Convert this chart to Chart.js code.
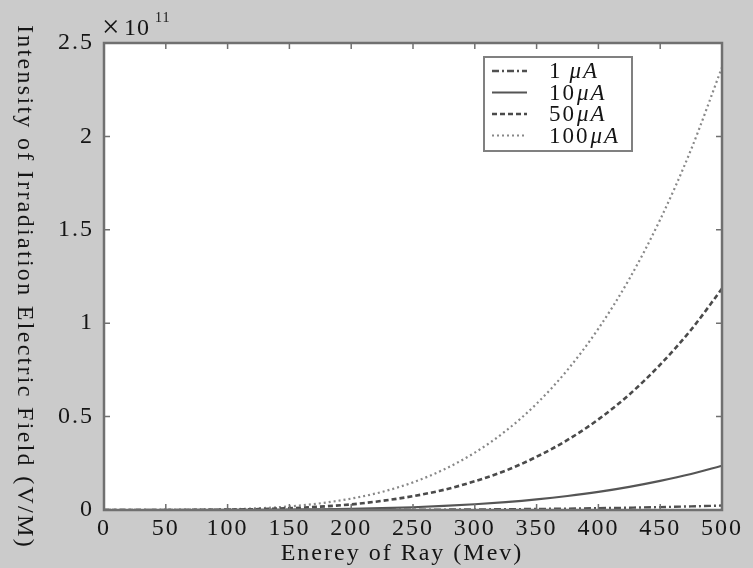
<!DOCTYPE html>
<html>
<head>
<meta charset="utf-8">
<script src="https://cdn.jsdelivr.net/npm/chart.js@4.4.1/dist/chart.umd.min.js"></script>
<style>
    html, body { margin: 0; padding: 0; background: #cbcbcb; }
    #wrap { width: 753px; height: 568px; }
</style>
</head>
<body>
<div id="wrap"><canvas id="chart" width="753" height="568"></canvas></div>
<script>
/* Values, in units of 10^11 V/M. */
const energies = [0, 25, 50, 75, 100, 125, 150, 175, 200, 225, 250, 275, 300, 325, 350, 375, 400, 425, 450, 475, 500];

const current1uA = [0, 0, 0, 0, 0.00004, 0.0001, 0.0002, 0.0004, 0.0006, 0.001, 0.0015, 0.0022, 0.0031, 0.0042, 0.0057, 0.0075, 0.0097, 0.0124, 0.0156, 0.0193, 0.0237];
const current10uA = [0, 0, 0.00002, 0.0001, 0.0004, 0.0009, 0.0019, 0.0036, 0.0061, 0.0097, 0.0148, 0.0217, 0.0307, 0.0423, 0.0569, 0.075, 0.097, 0.124, 0.156, 0.193, 0.237];
const current50uA = [0, 0.00001, 0.0001, 0.0006, 0.0019, 0.0046, 0.0096, 0.018, 0.030, 0.049, 0.074, 0.108, 0.154, 0.211, 0.285, 0.375, 0.485, 0.618, 0.778, 0.965, 1.185];
const current100uA = [0, 0.00001, 0.0002, 0.0012, 0.0038, 0.0093, 0.019, 0.036, 0.061, 0.097, 0.148, 0.217, 0.307, 0.423, 0.569, 0.750, 0.971, 1.237, 1.555, 1.930, 2.37];

const xTicks = [0, 50, 100, 150, 200, 250, 300, 350, 400, 450, 500];
const yTicks = [0, 0.5, 1, 1.5, 2, 2.5];

const seriesNames = ["1", "10", "50", "100"];

const serif = "'Liberation Serif', 'DejaVu Serif', serif";
const textColor = "#151515";
const boxColor = "#707070";

const toPoints = (values) => energies.map((e, i) => ({x: e, y: values[i]}));

const lineStyles = [
    {color: "#505050", dash: [7, 3, 2, 3], width: 2.4},
    {color: "#555555", dash: [], width: 2.2},
    {color: "#4a4a4a", dash: [5, 3], width: 2.6},
    {color: "#888888", dash: [2, 3], width: 2.2},
];

const datasets = [current1uA, current10uA, current50uA, current100uA].map((vals, i) => ({
    label: seriesNames[i] + "\u03bcA",
    data: toPoints(vals),
    borderColor: lineStyles[i].color,
    borderDash: lineStyles[i].dash,
    borderWidth: lineStyles[i].width,
    pointRadius: 0,
    fill: false,
    cubicInterpolationMode: "monotone",
}));

// Box, inward ticks, rotated y title, exponent label and the legend (MATLAB look).
const decorations = {
    id: "decorations",
    afterDatasetsDraw(chart) {
        const ctx = chart.ctx;
        const area = chart.chartArea;
        const xs = chart.scales.x;
        const ys = chart.scales.y;
        ctx.save();

        // plot box
        ctx.strokeStyle = boxColor;
        ctx.lineWidth = 2.5;
        ctx.setLineDash([]);
        ctx.strokeRect(area.left, area.top, area.right - area.left, area.bottom - area.top);

        // inward tick marks on all sides
        const tl = 6;
        ctx.lineWidth = 1.5;
        ctx.beginPath();
        xTicks.forEach((t) => {
            const px = xs.getPixelForValue(t);
            ctx.moveTo(px, area.bottom); ctx.lineTo(px, area.bottom - tl);
            ctx.moveTo(px, area.top); ctx.lineTo(px, area.top + tl);
        });
        yTicks.forEach((t) => {
            const py = ys.getPixelForValue(t);
            ctx.moveTo(area.left, py); ctx.lineTo(area.left + tl, py);
            ctx.moveTo(area.right, py); ctx.lineTo(area.right - tl, py);
        });
        ctx.stroke();

        ctx.fillStyle = textColor;

        // x title
        ctx.font = "24px " + serif;
        ctx.letterSpacing = "2px";
        ctx.textAlign = "center";
        ctx.textBaseline = "alphabetic";
        ctx.fillText("Enerey of Ray (Mev)", 402, 560);

        // y title, reading top to bottom
        ctx.save();
        ctx.letterSpacing = "2.3px";
        ctx.translate(24, 287);
        ctx.rotate(Math.PI / 2);
        ctx.textBaseline = "middle";
        ctx.fillText("Intensity of Irradiation Electric Field (V/M)", 0, 0);
        ctx.restore();

        // exponent
        ctx.textAlign = "left";
        ctx.letterSpacing = "1px";
        ctx.font = "31px " + serif;
        ctx.fillText("\u00d7", 102, 37);
        ctx.font = "24px " + serif;
        ctx.fillText("10", 124, 35);
        ctx.font = "14px " + serif;
        ctx.fillText("11", 155, 22);

        // legend
        const lx = 484, ly = 57, lw = 148, lh = 94;
        ctx.fillStyle = "#ffffff";
        ctx.fillRect(lx, ly, lw, lh);
        ctx.strokeStyle = "#808080";
        ctx.lineWidth = 2;
        ctx.strokeRect(lx, ly, lw, lh);
        chart.data.datasets.forEach((ds, i) => {
            const cy = ly + 14 + i * 21.5;
            ctx.strokeStyle = ds.borderColor;
            ctx.lineWidth = ds.borderWidth;
            ctx.setLineDash(ds.borderDash);
            ctx.beginPath();
            ctx.moveTo(lx + 8, cy);
            ctx.lineTo(lx + 43, cy);
            ctx.stroke();
            ctx.setLineDash([]);
            ctx.fillStyle = textColor;
            ctx.textBaseline = "middle";
            ctx.letterSpacing = "2px";
            ctx.font = "23px " + serif;
            ctx.fillText(seriesNames[i], lx + 65, cy + 1);
            const nw = ctx.measureText(seriesNames[i]).width;
            ctx.font = "italic 23px " + serif;
            ctx.fillText("\u03bcA", lx + 65 + nw + (i === 0 ? 7 : 1), cy + 1);
        });

        ctx.restore();
    }
};

const ctx = document.getElementById("chart").getContext("2d");
const chart = new Chart(ctx, {
    type: "line",
    data: {datasets: datasets},
    options: {
        responsive: false,
        animation: false,
        devicePixelRatio: 1,
        layout: {padding: {left: 0, top: 43, right: 31, bottom: 0}},
        plugins: {
            legend: {display: false},
            tooltip: {enabled: false},
            decorations: {},
        },
        scales: {
            x: {
                type: "linear", min: 0, max: 500,
                afterFit: (scale) => { scale.height = 58; },
                afterBuildTicks: (scale) => { scale.ticks = xTicks.map((v) => ({value: v})); },
                grid: {display: false, drawTicks: false},
                border: {display: false},
                ticks: {
                    font: {family: serif, size: 24}, color: textColor, padding: 4, maxRotation: 0,
                    callback: (v) => String(v),
                },
            },
            y: {
                type: "linear", min: 0, max: 2.5,
                afterFit: (scale) => { scale.width = 104; },
                afterBuildTicks: (scale) => { scale.ticks = yTicks.map((v) => ({value: v})); },
                grid: {display: false, drawTicks: false},
                border: {display: false},
                ticks: {
                    font: {family: serif, size: 24}, color: textColor, padding: 10,
                    callback: (v) => String(v),
                },
            },
        },
    },
    plugins: [
        {id: "plotBg", beforeDraw(c) {
            const a = c.chartArea;
            // letter spacing like the original export; kept for the tick labels too
            c.ctx.letterSpacing = "2px";
            c.ctx.save();
            c.ctx.fillStyle = "#cbcbcb";
            c.ctx.fillRect(0, 0, c.width, c.height);
            c.ctx.fillStyle = "#ffffff";
            c.ctx.fillRect(a.left, a.top, a.right - a.left, a.bottom - a.top);
            c.ctx.restore();
        }},
        decorations,
    ],
});
</script>
</body>
</html>
